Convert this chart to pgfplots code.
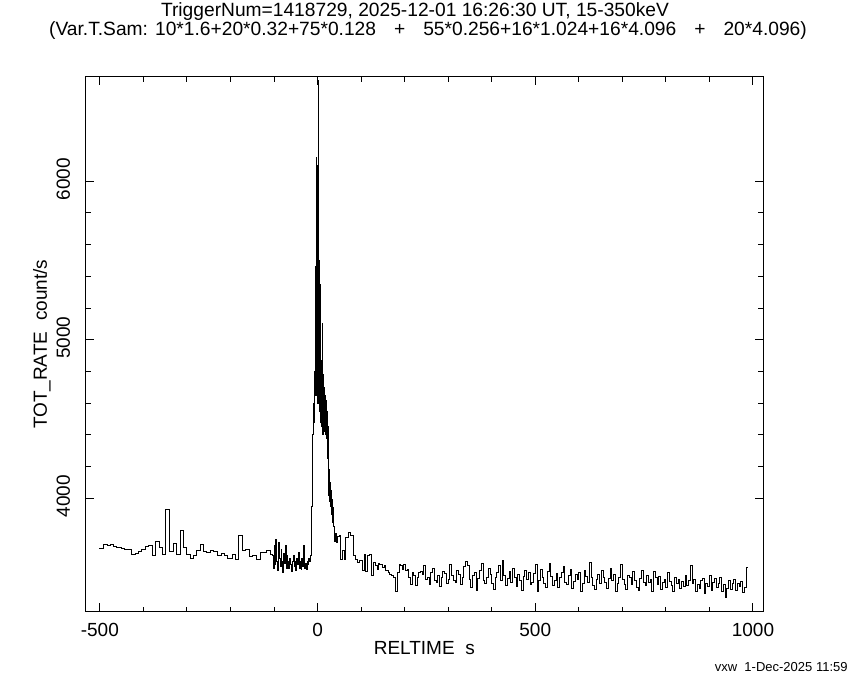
\documentclass[border=0pt]{standalone}
\usepackage{pgfplots}
\pgfplotsset{compat=1.18}
\usepackage{fontspec}
\setmainfont{Liberation Sans}
\begin{document}
\begin{tikzpicture}
\useasboundingbox (-42.75pt,-34.25pt) rectangle (382.25pt,305.75pt);
\begin{axis}[
  at={(0,0)}, anchor=south west,
  scale only axis, width=338.75pt, height=267.25pt,
  xmin=-533, xmax=1023, ymin=3286, ymax=6658,
  xtick={-500,0,500,1000}, ytick={4000,5000,6000},
  minor x tick num=4, minor y tick num=4,
  tick align=inside, major tick length=4.2pt, minor tick length=2.5pt,
  scaled ticks=false,
  /pgf/number format/assume math mode=true,
  /pgf/number format/1000 sep={},
  tick label style={font=\fontsize{9.5}{11}\selectfont},
  xticklabel style={inner sep=0pt, anchor=north, yshift=-5.5pt},
  yticklabel style={inner sep=0pt, anchor=south, rotate=90, yshift=7.5pt, xshift=1pt},
  axis line style={line width=0.5pt},
  every tick/.style={black, line width=0.5pt},
]
\addplot[const plot mark left, black, line width=0.5pt] table {
t v
-501 3683
-491 3709
-483 3700
-476 3709
-468 3696
-461 3690
-451 3683
-443 3675
-436 3679
-428 3648
-419 3654
-411 3663
-404 3675
-396 3696
-388 3705
-379 3642
-372 3725
-364 3690
-356 3648
-349 3931
-341 3663
-331 3717
-324 3648
-315 3799
-308 3690
-301 3648
-293 3621
-286 3637
-278 3669
-268 3711
-261 3663
-254 3659
-246 3669
-239 3663
-229 3638
-221 3654
-213 3642
-206 3621
-196 3648
-188 3617
-181 3768
-173 3669
-165 3680
-156 3633
-149 3640
-140 3612
-132 3659
-124 3659
-117 3669
-107 3648
-104 3640
-102 3560
-100 3700
-98 3580
-96 3740
-94 3600
-92 3545
-90 3720
-88 3620
-86 3570
-84 3680
-82 3600
-80 3530
-78 3650
-76 3590
-74 3700
-72 3560
-70 3640
-68 3600
-66 3560
-64 3620
-62 3580
-60 3540
-58 3600
-56 3640
-54 3570
-52 3600
-50 3545
-48 3620
-46 3580
-44 3660
-42 3560
-40 3600
-38 3550
-36 3620
-34 3570
-32 3700
-30 3560
-28 3590
-26 3550
-24 3600
-22 3580
-20 3620
-18 3600
-16 3640
-15 3700
-14 3700
-13 3950
-12 4150
-11 4400
-10 4600
-9 4480
-8 4750
-7 4550
-6 4800
-5 5460
-4 4650
-3 6150
-2 4700
-1 6100
0 4600
1 6635
2 4650
3 5500
4 4550
5 5350
6 4480
7 4870
8 4450
9 4800
10 4460
11 5100
12 4400
13 4780
14 4430
15 4700
16 4420
17 4650
18 4400
19 4620
20 4380
21 4550
22 4250
23 4450
24 4150
25 4250
26 4020
27 4180
28 3980
29 4100
30 3950
31 4050
32 3900
33 3990
34 3850
35 3940
36 3820
38 3790
40 3730
42 3780
44 3720
46 3760
49.7 3763
53.5 3616
57.3 3669
61.1 3616
64.9 3753
71 3784
76.3 3763
81.7 3637
86.2 3616
91.6 3596
96.9 3606
103 3543
106.9 3648
110.7 3537
114.5 3642
119.8 3648
123.6 3512
127.5 3596
132 3575
136.6 3554
139.7 3591
142.7 3585
148.8 3564
152.6 3575
156.5 3543
162.6 3533
165.6 3522
170.2 3512
175.5 3501
179.4 3411
183.2 3533
187 3585
190.8 3575
194.6 3554
198.4 3585
202.2 3543
206 3554
209.8 3501
213.6 3459
217.4 3533
221.2 3512
225 3449
228.8 3501
232.6 3533
236 3540
240 3520
244 3575
248 3490
252 3500
256 3455
260 3530
264 3560
268 3480
272 3470
276 3515
280 3445
284 3500
288 3540
292 3525
296 3460
300 3490
304 3585
308 3510
312 3480
316 3470
320 3545
324 3520
328 3455
332 3500
336 3570
340 3600
344 3575
348 3490
352 3440
356 3510
360 3530
364 3420
368 3495
372 3545
376 3590
380 3480
384 3465
388 3500
392 3555
396 3520
400 3460
404 3425
408 3500
412 3535
416 3575
420 3480
424 3606
428 3510
432 3450
436 3495
440 3540
444 3470
448 3560
452 3500
456 3445
460 3520
464 3480
468 3420
472 3505
476 3545
480 3490
484 3530
488 3455
492 3470
496 3525
500 3585
504 3410
508 3480
512 3550
516 3500
520 3465
524 3435
528 3540
532 3590
536 3505
540 3450
544 3480
548 3525
552 3440
556 3500
560 3530
564 3570
568 3470
572 3455
576 3510
580 3550
584 3430
588 3475
592 3520
596 3490
600 3530
604 3415
608 3460
612 3545
616 3505
620 3470
624 3595
628 3500
632 3450
636 3425
640 3490
644 3520
648 3465
652 3545
656 3500
660 3470
664 3430
668 3495
672 3555
676 3480
680 3520
684 3415
688 3460
692 3500
696 3585
700 3490
704 3455
708 3425
712 3510
716 3500
720 3455
724 3540
728 3480
732 3440
736 3420
740 3495
744 3545
748 3470
752 3450
756 3515
760 3470
764 3490
768 3415
772 3540
776 3500
780 3455
784 3505
788 3425
792 3470
796 3490
800 3440
804 3530
808 3475
812 3450
816 3410
820 3500
824 3465
828 3485
832 3430
836 3475
840 3445
844 3515
848 3450
852 3480
856 3575
860 3460
864 3490
868 3410
872 3455
876 3430
880 3480
884 3495
888 3400
892 3460
896 3445
900 3510
904 3420
908 3470
912 3495
916 3440
920 3460
924 3500
928 3410
932 3455
936 3375
940 3430
944 3480
948 3425
952 3465
956 3490
960 3420
964 3460
968 3445
972 3475
976 3405
980 3440
984 3564
988 3564
};
\end{axis}
\node[font=\fontsize{9.6}{11}\selectfont] at (164.75pt,299.75pt) {TriggerNum=1418729, 2025-12-01 16:26:30 UT, 15-350keV};
\node[font=\fontsize{9.6}{11}\selectfont] at (171.25pt,290.25pt) {(Var.T.Sam: 10*1.6+20*0.32+75*0.128\hspace{9pt}+\hspace{9pt}55*0.256+16*1.024+16*4.096\hspace{9pt}+\hspace{9pt}20*4.096)};
\node[font=\fontsize{9.5}{11}\selectfont] at (169.4pt,-18.25pt) {RELTIME\ \ s};
\node[font=\fontsize{9.5}{11}\selectfont, rotate=90] at (-21.75pt,133.6pt) {TOT\_RATE\ \ count/s};
\node[font=\fontsize{6.5}{8}\selectfont, anchor=east, inner sep=0pt] at (381.25pt,-27.75pt) {vxw\ \ 1-Dec-2025 11:59};
\end{tikzpicture}
\end{document}
